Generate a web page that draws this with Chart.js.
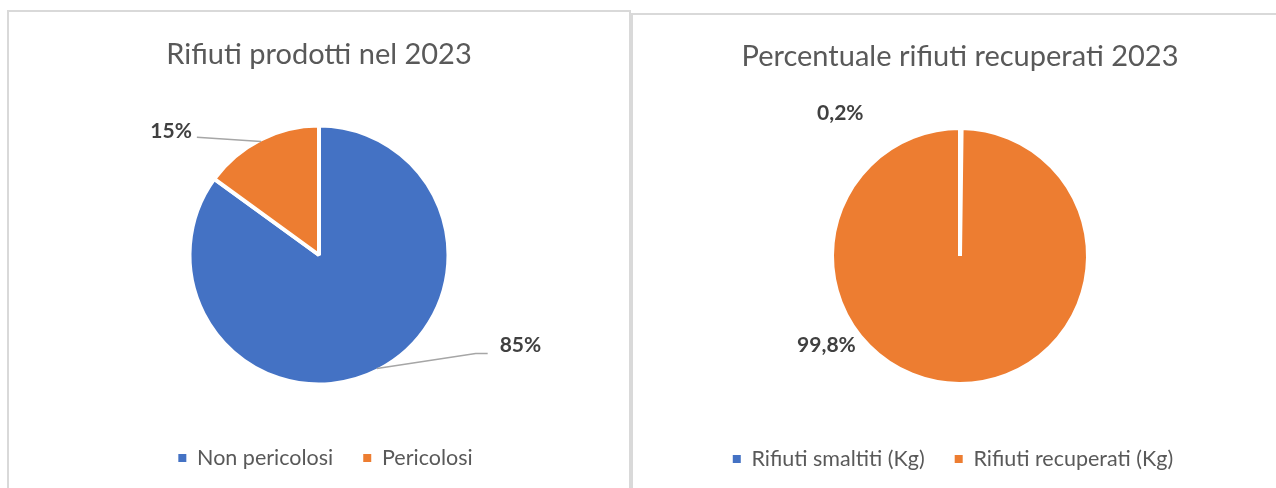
<!DOCTYPE html>
<html>
<head>
<meta charset="utf-8">
<script src="https://cdn.jsdelivr.net/npm/chart.js@4.4.1/dist/chart.umd.min.js"></script>
<style>
  html, body { margin: 0; padding: 0; background: #ffffff; overflow: hidden; width: 1276px; height: 488px; }
  .panel { position: absolute; box-sizing: border-box; border: 2px solid #d9d9d9; background: #ffffff; }
  .panel canvas { position: absolute; left: 0; top: 0; }
</style>
</head>
<body>
<div class="panel" style="left:7px; top:10px; width:624px; height:500px;">
  <canvas id="wasteChart" width="620" height="476"></canvas>
</div>
<div class="panel" style="left:631px; top:13px; width:658px; height:500px;">
  <canvas id="recoveryChart" width="654" height="473"></canvas>
</div>
<script>
// Waste produced in 2023, share by type (%)
const wasteTitle = 'Rifiuti prodotti nel 2023';
const wasteLabels = ['Non pericolosi', 'Pericolosi'];
const wasteShares = [85, 15];

// Waste recovered vs disposed in 2023 (%)
const recoveryTitle = 'Percentuale rifiuti recuperati 2023';
const recoveryLabels = ['Rifiuti smaltiti (Kg)', 'Rifiuti recuperati (Kg)'];
const recoveryShares = [0.2, 99.8];

const BLUE = '#4472c4';
const ORANGE = '#ed7d31';
const TEXT_GREY = '#595959';
const FONT = 'Lato, "Open Sans", sans-serif';

// Percent labels outside the slices, with optional leader lines
const sliceLabels = {
  id: 'sliceLabels',
  afterDatasetsDraw(chart, args, opts) {
    const ctx = chart.ctx;
    const meta = chart.getDatasetMeta(0);
    const values = chart.data.datasets[0].data;
    ctx.save();
    ctx.font = 'bold 21px ' + FONT;
    ctx.textAlign = 'center';
    ctx.textBaseline = 'middle';
    meta.data.forEach((arc, i) => {
      const spec = opts.items[i];
      if (!spec) return;
      const p = arc.getProps(['x', 'y', 'startAngle', 'endAngle', 'outerRadius'], true);
      const r = p.outerRadius - 2;
      const text = String(values[i]).replace('.', ',') + '%';
      const cx = p.x + spec.dx * r;
      const cy = p.y + spec.dy * r;
      const w = ctx.measureText(text).width;
      if (spec.leader) {
        const mid = (p.startAngle + p.endAngle) / 2;
        const rx = p.x + Math.cos(mid) * r;
        const ry = p.y + Math.sin(mid) * r;
        ctx.beginPath();
        ctx.strokeStyle = '#a6a6a6';
        ctx.lineWidth = 1.5;
        ctx.moveTo(rx, ry);
        if (cx > p.x) {
          const left = cx - w / 2;
          ctx.lineTo(left - 24, cy + 8);
          ctx.lineTo(left - 12, cy + 8);
        } else {
          const right = cx + w / 2;
          ctx.lineTo(right + 5, cy + 6);
        }
        ctx.stroke();
      }
      ctx.fillStyle = '#404040';
      ctx.fillText(text, cx, cy);
    });
    ctx.restore();
  }
};

// Nudges the legend row sideways after layout
const legendShift = {
  id: 'legendShift',
  afterLayout(chart, args, opts) {
    const lg = chart.legend;
    if (lg && opts.dx) {
      lg.left += opts.dx;
      lg.right += opts.dx;
    }
  }
};

function legendItems(chart) {
  const items = Chart.overrides.pie.plugins.legend.labels.generateLabels(chart);
  return items.map(it => Object.assign(it, { lineWidth: 0, strokeStyle: 'rgba(0,0,0,0)', fontColor: TEXT_GREY }));
}

function makePie(canvasId, title, labels, values, radius, pad, labelItems, legendDx) {
  return new Chart(document.getElementById(canvasId), {
    type: 'pie',
    data: {
      labels: labels,
      datasets: [{
        data: values,
        backgroundColor: [BLUE, ORANGE],
        borderColor: '#ffffff',
        borderWidth: 4,
        radius: radius
      }]
    },
    options: {
      responsive: false,
      animation: false,
      devicePixelRatio: 1,
      events: [],
      layout: { padding: { top: 0, bottom: pad.legendBottom, left: 0, right: 0 } },
      plugins: {
        title: {
          display: true,
          text: title,
          color: TEXT_GREY,
          font: { family: FONT, size: 29, weight: 'normal', lineHeight: 1.2 },
          padding: { top: pad.titleTop, bottom: pad.titleBottom }
        },
        legend: {
          display: true,
          position: 'bottom',
          labels: {
            boxWidth: 8,
            boxHeight: 8,
            padding: 30,
            color: TEXT_GREY,
            font: { family: FONT, size: 21.5 },
            generateLabels: legendItems
          }
        },
        tooltip: { enabled: false },
        sliceLabels: { items: labelItems },
        legendShift: { dx: legendDx }
      }
    },
    plugins: [sliceLabels, legendShift]
  });
}

function drawAll() {
  makePie('wasteChart', wasteTitle, wasteLabels, wasteShares, 129.5,
    { titleTop: 25.6, titleBottom: 20.3, legendBottom: 9.2 },
    [ { dx: 1.58, dy: 0.71, leader: true }, { dx: -1.16, dy: -0.97, leader: true } ], 6.5);
  makePie('recoveryChart', recoveryTitle, recoveryLabels, recoveryShares, 128,
    { titleTop: 24.6, titleBottom: 19.3, legendBottom: 8.2 },
    [ { dx: -0.95, dy: -1.13, leader: false }, { dx: -1.06, dy: 0.71, leader: false } ], -7);
}

Promise.all([
  document.fonts.load('29px Lato'),
  document.fonts.load('bold 21px Lato')
]).then(drawAll, drawAll);
</script>
</body>
</html>
